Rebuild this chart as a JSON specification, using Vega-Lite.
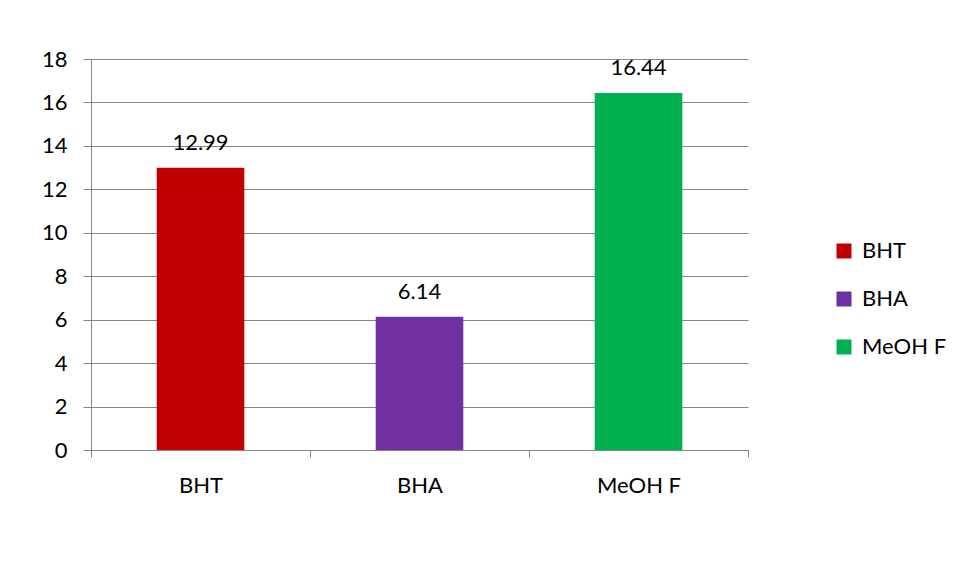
{
  "$schema": "https://vega.github.io/schema/vega-lite/v6.json",
  "width": 657,
  "height": 391,
  "autosize": {"type": "none"},
  "padding": {"left": 91, "top": 59, "right": 206, "bottom": 130},
  "background": "white",
  "config": {
    "view": {"stroke": null},
    "font": "Lato",
    "axis": {"labelFont": "Lato", "labelFontSize": 22, "labelColor": "#000000", "domainColor": "#868686", "tickColor": "#868686", "gridColor": "#868686"},
    "legend": {"labelFont": "Lato", "labelFontSize": 22, "labelColor": "#000000"}
  },
  "data": {
    "values": [
      {"cat": "BHT", "value": 12.99, "label": "12.99"},
      {"cat": "BHA", "value": 6.14, "label": "6.14"},
      {"cat": "MeOH F", "value": 16.44, "label": "16.44"}
    ]
  },
  "layer": [
    {
      "mark": {"type": "bar", "width": {"band": 0.4}},
      "encoding": {
        "x": {
          "field": "cat", "type": "nominal", "sort": ["BHT", "BHA", "MeOH F"],
          "scale": {"paddingInner": 0, "paddingOuter": 0},
          "axis": {"title": null, "labelAngle": 0, "tickBand": "extent", "tickSize": 7, "labelPadding": 18, "grid": false, "domainWidth": 1}
        },
        "y": {
          "field": "value", "type": "quantitative",
          "scale": {"domain": [0, 18], "nice": false},
          "axis": {"title": null, "values": [0, 2, 4, 6, 8, 10, 12, 14, 16, 18], "tickSize": 8, "labelPadding": 16, "grid": true, "domainColor": "#868686"}
        },
        "color": {
          "field": "cat", "type": "nominal",
          "scale": {"domain": ["BHT", "BHA", "MeOH F"], "range": ["#C00000", "#7030A0", "#00B050"]},
          "legend": {"title": null, "orient": "none", "legendX": 742, "legendY": 181, "symbolType": "square", "symbolSize": 225, "symbolStrokeWidth": 0, "labelOffset": 7, "rowPadding": 26, "padding": 0}
        }
      }
    },
    {
      "mark": {"type": "text", "baseline": "alphabetic", "dy": -18, "fontSize": 22, "color": "#000000"},
      "encoding": {
        "x": {"field": "cat", "type": "nominal", "sort": ["BHT", "BHA", "MeOH F"]},
        "y": {"field": "value", "type": "quantitative"},
        "text": {"field": "label", "type": "nominal"}
      }
    }
  ]
}
